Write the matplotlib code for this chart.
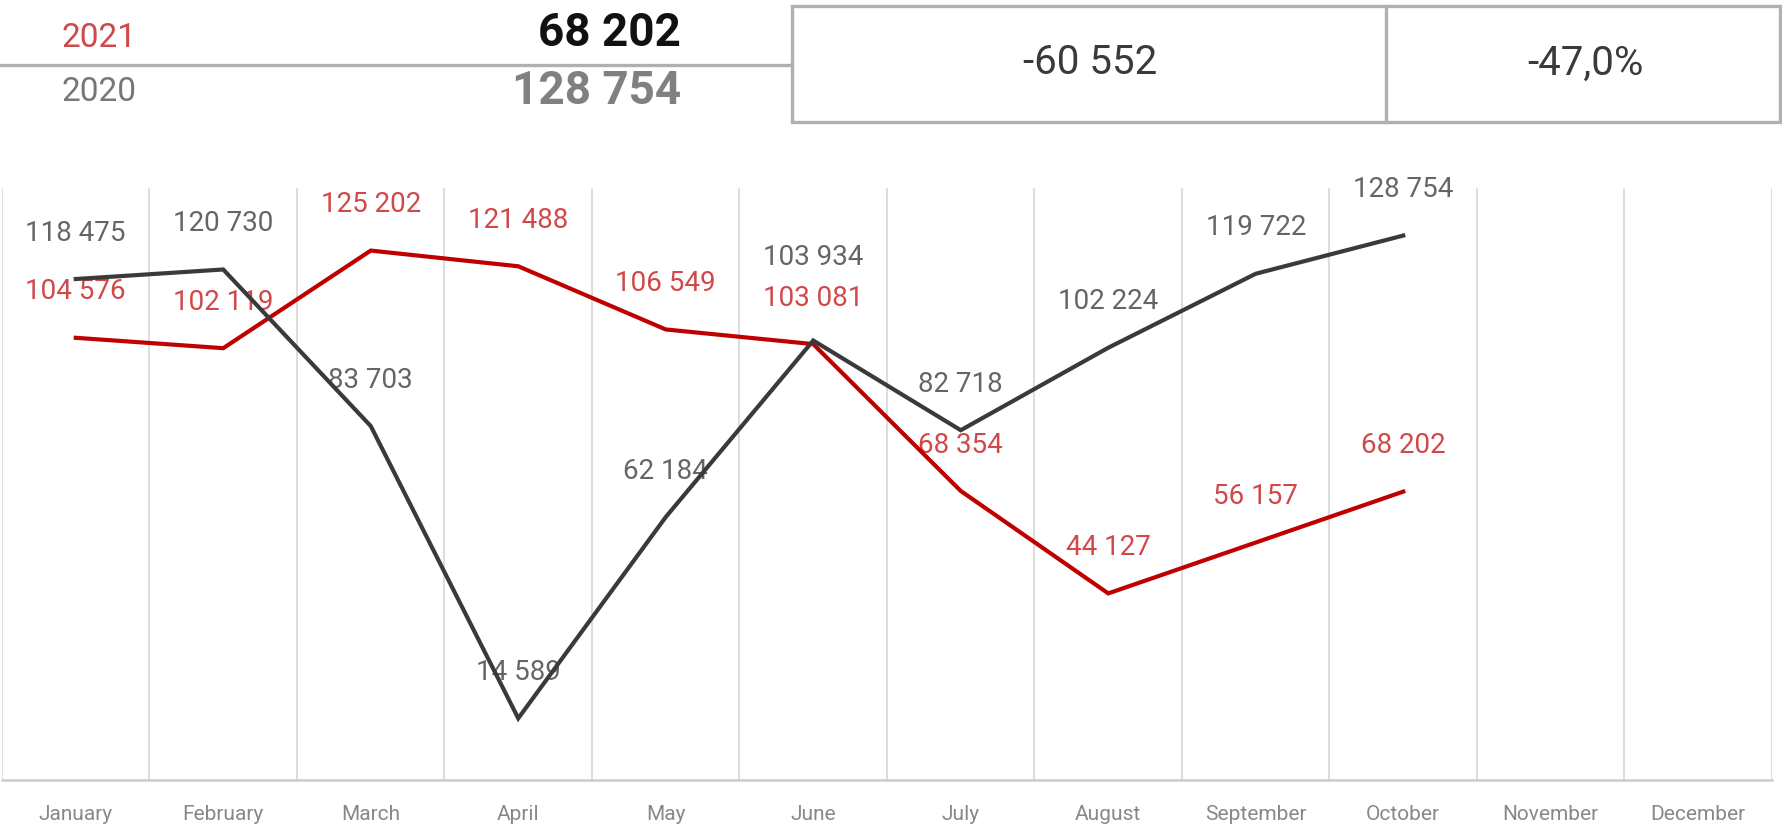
import numpy as np
import matplotlib
matplotlib.use('Agg')
import matplotlib.pyplot as plt
from matplotlib.lines import Line2D
from matplotlib.patches import Rectangle

months = ['January', 'February', 'March', 'April', 'May', 'June',
          'July', 'August', 'September', 'October', 'November', 'December']
sales_2020 = [118475, 120730, 83703, 14589, 62184, 103934,
              82718, 102224, 119722, 128754]
sales_2021 = [104576, 102119, 125202, 121488, 106549, 103081,
              68354, 44127, 56157, 68202]
years = ['2021', '2020']

RED = '#c00000'
RED_TXT = '#d04848'
DARK = '#3a3a3a'
GRAY_TXT = '#656565'
GRID = '#dadada'
FONT = 'Roboto'

W, H = 1783, 830


def fx(px):
    return px / W


def fy(py):
    return 1 - py / H


def fmt(v):
    return f'{v:,}'.replace(',', ' ')


fig = plt.figure(figsize=(W / 100, H / 100), dpi=100)

# --- header: last month totals and difference ---
last_2021 = sales_2021[-1]
last_2020 = sales_2020[-1]
diff = last_2021 - last_2020
pct = diff / last_2020 * 100

fig.text(fx(62), fy(38), years[0], color=RED_TXT, fontsize=24, family=FONT,
         va='center', ha='left')
fig.text(fx(62), fy(92), years[1], color='#777777', fontsize=24, family=FONT,
         va='center', ha='left')
fig.text(fx(681), fy(33), fmt(last_2021), color='#111111', fontsize=33,
         family=FONT, fontweight='bold', va='center', ha='right')
fig.text(fx(681), fy(91), fmt(last_2020), color='#808080', fontsize=33,
         family=FONT, fontweight='bold', va='center', ha='right')

fig.add_artist(Line2D([fx(0), fx(792)], [fy(65), fy(65)], color='#b0b0b0',
                      lw=2.4, transform=fig.transFigure))
fig.add_artist(Rectangle((fx(792), fy(122)), fx(1780) - fx(792),
                         fy(6) - fy(122), fill=False, edgecolor='#b0b0b0',
                         lw=2.4, transform=fig.transFigure))
fig.add_artist(Line2D([fx(1386), fx(1386)], [fy(6), fy(122)], color='#b0b0b0',
                      lw=2.4, transform=fig.transFigure))

fig.text(fx(1090), fy(63), fmt(diff), color='#3a3a3a',
         fontsize=29, family=FONT, va='center', ha='center')
fig.text(fx(1585), fy(63), f'{pct:.1f}%'.replace('.', ','), color='#3a3a3a',
         fontsize=29, family=FONT, va='center', ha='center')

# --- monthly line chart ---
ax = fig.add_axes([fx(2), fy(780), fx(1772) - fx(2), fy(188) - fy(780)])
ax.set_xlim(-0.5, len(months) - 0.5)
ax.set_ylim(0, 140000)

for i in range(len(months) + 1):
    ax.axvline(i - 0.5, color=GRID, lw=1.3, zorder=0)

x20 = np.arange(len(sales_2020))
x21 = np.arange(len(sales_2021))
ax.plot(x21, sales_2021, color=RED, lw=3.0, zorder=4, solid_joinstyle='miter')
ax.plot(x20, sales_2020, color=DARK, lw=3.0, zorder=5, solid_joinstyle='miter')

# value labels sit above each point; June 2020 raised to clear the 2021 label
raised_2020 = {5: 60}
for i, v in enumerate(sales_2020):
    ax.annotate(fmt(v), (x20[i], v), xytext=(0, raised_2020.get(i, 33)),
                textcoords='offset points', ha='center', va='center',
                fontsize=20, family=FONT, color=GRAY_TXT, zorder=2)
for i, v in enumerate(sales_2021):
    ax.annotate(fmt(v), (x21[i], v), xytext=(0, 33),
                textcoords='offset points', ha='center', va='center',
                fontsize=20, family=FONT, color=RED_TXT, zorder=2)

for side in ['top', 'left', 'right']:
    ax.spines[side].set_visible(False)
ax.spines['bottom'].set_color('#cccccc')
ax.spines['bottom'].set_linewidth(1.8)

ax.set_yticks([])
ax.set_xticks(range(len(months)))
ax.set_xticklabels(months, fontsize=15, family=FONT, color='#888888')
ax.tick_params(axis='x', length=0, pad=18)

fig.savefig('out.png', dpi=100)
